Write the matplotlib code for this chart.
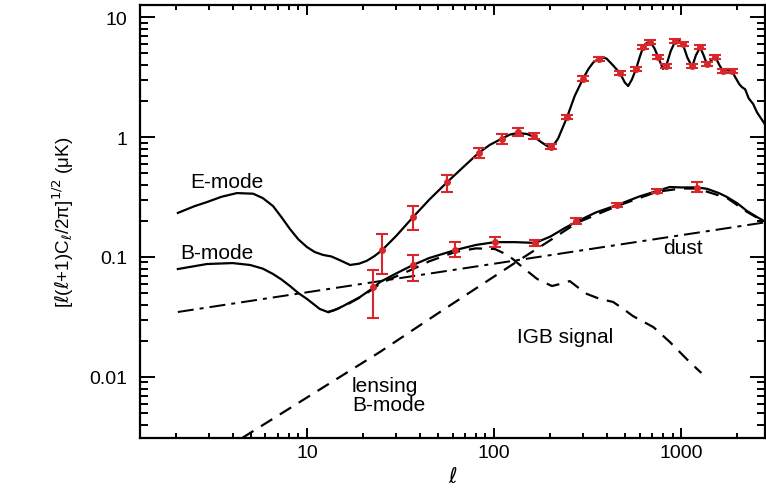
import numpy as np
import matplotlib
matplotlib.use('Agg')
import matplotlib.pyplot as plt
from matplotlib.ticker import FuncFormatter, NullFormatter, LogLocator

plt.rcParams['font.family'] = ['Liberation Sans', 'DejaVu Sans']
plt.rcParams['mathtext.fontset'] = 'dejavusans'

# E-mode model curve
e_ell = [2.04, 2.5, 2.92, 3.5, 4.22, 5.15, 5.8, 6.58, 7.3, 8.11, 9, 10, 11, 12.2, 13.5, 15, 17, 19, 20.9,
         23, 25.2, 30, 36.9, 45, 56.1, 70, 83, 95, 110, 122, 134, 150, 164, 180, 195, 205, 220, 246, 270,
         299, 320, 340, 365, 383, 400, 430, 472, 500, 521, 545, 574, 600, 627, 655, 685, 720, 754, 800,
         832, 880, 940, 1000, 1024, 1080, 1146, 1200, 1265, 1320, 1378, 1440, 1520, 1600, 1679, 1770,
         1870, 1960, 2050, 2119, 2200, 2300, 2426, 2550, 2700, 2850]
e_val = [0.233, 0.265, 0.287, 0.318, 0.341, 0.337, 0.31, 0.266, 0.215, 0.171, 0.14, 0.121, 0.110, 0.104,
         0.101, 0.094, 0.0858, 0.088, 0.093, 0.102, 0.114, 0.150, 0.215, 0.30, 0.42, 0.58, 0.74, 0.86,
         0.97, 1.05, 1.08, 1.06, 1.0, 0.9, 0.83, 0.83, 0.97, 1.47, 2.2, 3.06, 3.7, 4.2, 4.5, 4.6, 4.5,
         4.0, 3.4, 2.85, 2.66, 3.0, 3.67, 4.6, 5.62, 6.1, 6.2, 5.5, 4.64, 3.7, 3.9, 5.2, 6.5, 6.2, 5.9,
         4.6, 3.85, 4.8, 5.6, 4.8, 4.0, 4.3, 4.7, 4.0, 3.5, 3.6, 3.55, 3.1, 2.75, 2.6, 2.5, 2.1, 1.89,
         1.6, 1.4, 1.23]

# B-mode model curve
b_ell = [2.04, 2.92, 4.0, 4.96, 5.8, 6.58, 7.3, 8.11, 9, 10, 11.7, 12.9, 14, 15.6, 19.2, 22.5, 24.6, 30,
         36.9, 45, 61.8, 80, 101, 130, 166, 200, 240, 278, 350, 455, 600, 745, 870, 1000, 1219, 1378,
         1600, 1762, 2000, 2250, 2550, 2850]
b_val = [0.0794, 0.0874, 0.089, 0.0858, 0.08, 0.0722, 0.065, 0.0573, 0.05, 0.0447, 0.0369, 0.0348,
         0.036, 0.039, 0.0464, 0.055, 0.0619, 0.073, 0.0858, 0.098, 0.114, 0.126, 0.133, 0.133, 0.131,
         0.148, 0.175, 0.198, 0.235, 0.271, 0.32, 0.355, 0.383, 0.38, 0.38, 0.37, 0.34, 0.316, 0.28,
         0.242, 0.215, 0.195]

# lensing B-mode (dashed)
lens_ell = [4.5, 24.6, 51.4, 134, 200, 278, 455, 745, 1000, 1219, 1762, 2250, 2850]
lens_val = [0.0031, 0.0162, 0.0348, 0.0926, 0.138, 0.193, 0.266, 0.35, 0.372, 0.372, 0.31, 0.238, 0.192]

# IGB signal (dashed)
igb_ell = [12.9, 15.6, 19.2, 22.5, 24.6, 30, 36.9, 45, 61.8, 80, 101, 115, 126, 145, 170, 204, 230, 254,
           280, 314, 368, 433, 490, 553, 712, 870, 1112, 1284]
igb_val = [0.0345, 0.0385, 0.046, 0.054, 0.060, 0.069, 0.0794, 0.092, 0.110, 0.118, 0.1166, 0.106,
           0.0962, 0.08, 0.0656, 0.0573, 0.060, 0.063, 0.056, 0.0492, 0.0447, 0.0422, 0.037, 0.0322,
           0.026, 0.0196, 0.0133, 0.0108]

# dust (dash-dot)
dust_ell = [2.04, 2850]
dust_val = [0.0348, 0.195]

# E-mode data points
ep_ell = [25.2, 36.9, 56.1, 83, 110, 134, 164, 202, 246, 299, 364, 472, 574, 627, 685, 754, 832, 929,
          1024, 1146, 1265, 1378, 1520, 1679, 1870]
ep_val = [0.114, 0.215, 0.42, 0.74, 0.96, 1.10, 1.02, 0.83, 1.47, 3.06, 4.45, 3.41, 3.67, 5.62, 6.19,
          4.64, 3.9, 6.31, 5.97, 3.9, 5.62, 4.07, 4.64, 3.55, 3.55]
ep_lo = [0.072, 0.168, 0.35, 0.67, 0.88, 1.02, 0.97, 0.79, 1.40, 2.92, 4.28, 3.28, 3.53, 5.40, 5.95,
         4.46, 3.75, 6.06, 5.74, 3.75, 5.40, 3.91, 4.46, 3.41, 3.41]
ep_hi = [0.155, 0.266, 0.48, 0.81, 1.05, 1.18, 1.07, 0.87, 1.54, 3.20, 4.62, 3.54, 3.81, 5.84, 6.43,
         4.82, 4.05, 6.56, 6.20, 4.05, 5.84, 4.23, 4.82, 3.69, 3.69]

# B-mode data points
bp_ell = [22.5, 36.9, 61.8, 101, 166, 274, 455, 745, 1219]
bp_val = [0.0562, 0.0858, 0.114, 0.133, 0.131, 0.200, 0.271, 0.355, 0.376]
bp_lo = [0.0311, 0.063, 0.100, 0.121, 0.123, 0.190, 0.260, 0.342, 0.350]
bp_hi = [0.078, 0.104, 0.133, 0.147, 0.139, 0.210, 0.282, 0.368, 0.420]

fig = plt.figure(figsize=(7.66, 4.89), dpi=100)
ax = fig.add_axes([140 / 766, 1 - 439 / 489, 625 / 766, 433 / 489])

lw = 1.6
ax.plot(e_ell, e_val, color='black', lw=lw)
ax.plot(b_ell, b_val, color='black', lw=lw)
ax.plot(lens_ell, lens_val, color='black', lw=lw, dashes=(6, 4))
ax.plot(igb_ell, igb_val, color='black', lw=lw, dashes=(6, 4))
ax.plot(dust_ell, dust_val, color='black', lw=lw * 0.9, dashes=(8, 3, 2, 3))

red = '#d8262a'
for xs, ys, lo, hi in [(ep_ell, ep_val, ep_lo, ep_hi), (bp_ell, bp_val, bp_lo, bp_hi)]:
    ys = np.array(ys)
    yerr = [ys - np.array(lo), np.array(hi) - ys]
    ax.errorbar(xs, ys, yerr=yerr, fmt='o', color=red, ms=4, elinewidth=1.5,
                capsize=4, capthick=1.5, zorder=5)

ax.set_xscale('log')
ax.set_yscale('log')
ax.set_xlim(1.28, 2810)
ax.set_ylim(0.0031, 12.6)

fmt = FuncFormatter(lambda v, _: f'{v:g}')
ax.xaxis.set_major_formatter(fmt)
ax.yaxis.set_major_formatter(fmt)
ax.xaxis.set_minor_formatter(NullFormatter())
ax.yaxis.set_minor_formatter(NullFormatter())
ax.xaxis.set_minor_locator(LogLocator(base=10, subs=np.arange(2, 10)))
ax.yaxis.set_minor_locator(LogLocator(base=10, subs=np.arange(2, 10)))

ax.tick_params(which='both', direction='in', top=True, right=True, width=1.4, labelsize=14)
ax.tick_params(axis='x', which='major', length=7, pad=4)
ax.tick_params(axis='x', which='minor', length=3.5)
ax.tick_params(axis='y', which='major', length=11, pad=9)
ax.tick_params(axis='y', which='minor', length=6)
for s in ax.spines.values():
    s.set_linewidth(1.6)

ax.set_xlabel(r'$\ell$', fontsize=15, labelpad=4)
ax.set_ylabel(r'[$\ell$($\ell$+1)C$_\ell$/2π]$^{1/2}$ (μK)', fontsize=13.5, labelpad=10)

fs = 15
ax.text(2.37, 0.422, 'E-mode', fontsize=fs, va='center')
ax.text(2.09, 0.108, 'B-mode', fontsize=fs, va='center')
ax.text(801, 0.121, 'dust', fontsize=fs, va='center')
ax.text(133, 0.0219, 'IGB signal', fontsize=fs, va='center')
ax.text(17.4, 0.00841, 'lensing', fontsize=fs, va='center')
ax.text(17.4, 0.00585, 'B-mode', fontsize=fs, va='center')

fig.savefig('out.png', dpi=100)
